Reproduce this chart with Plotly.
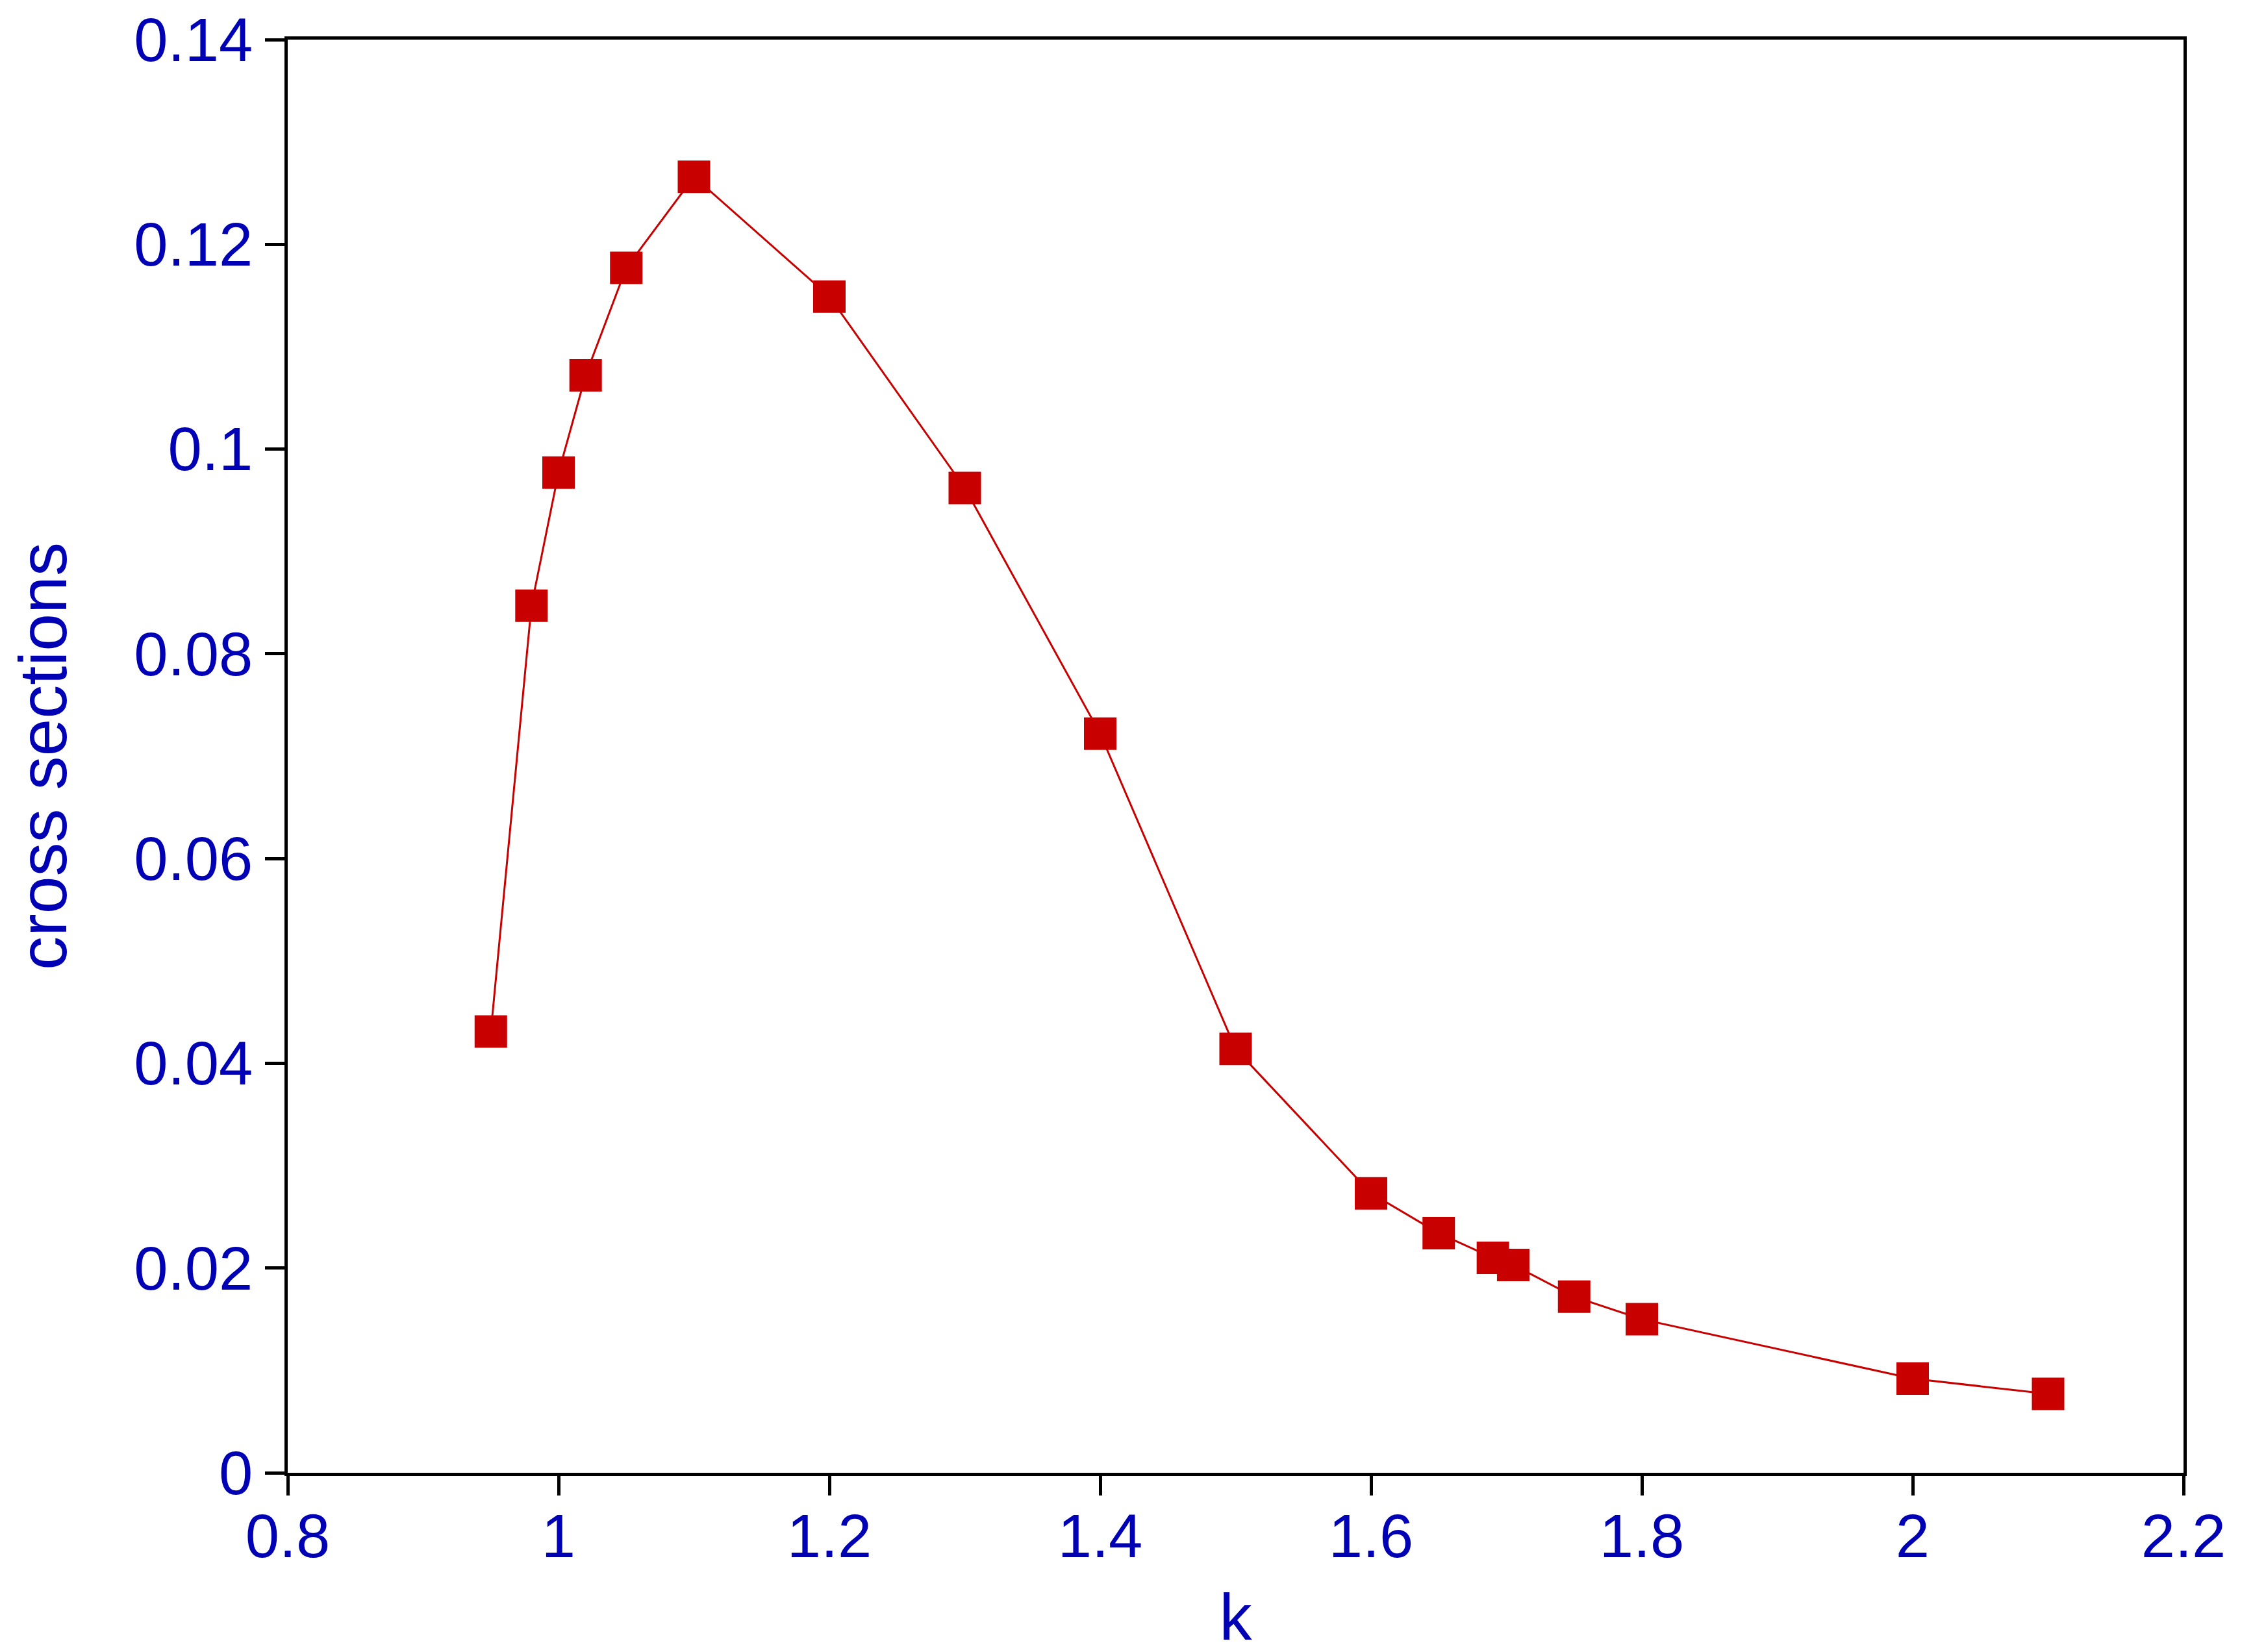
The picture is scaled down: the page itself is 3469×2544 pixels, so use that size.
import plotly.graph_objects as go

k = [0.95, 0.98, 1.0, 1.02, 1.05, 1.1, 1.2, 1.3, 1.4, 1.5,
     1.6, 1.65, 1.69, 1.705, 1.75, 1.8, 2.0, 2.1]
cross_sections = [0.0431, 0.0847, 0.0977, 0.1072, 0.1177, 0.1266, 0.1149, 0.0962, 0.0722, 0.0414,
                  0.0273, 0.0234, 0.0210, 0.0203, 0.0172, 0.0150, 0.0092, 0.0077]

BLUE = "#0000B4"
RED = "#C80000"
FONT = "Liberation Sans, Arial, sans-serif"

fig = go.Figure()
fig.add_trace(
    go.Scatter(
        x=k,
        y=cross_sections,
        mode="lines+markers",
        line=dict(color=RED, width=3),
        marker=dict(symbol="square", size=50, color=RED),
        showlegend=False,
    )
)

axis_common = dict(
    showgrid=False,
    zeroline=False,
    showline=True,
    linecolor="black",
    linewidth=5,
    mirror=True,
    ticks="outside",
    ticklen=30,
    tickwidth=5,
    tickcolor="black",
    ticklabeloverflow="allow",
    automargin=False,
    tickfont=dict(family=FONT, size=94, color=BLUE),
)

fig.update_xaxes(
    range=[0.8, 2.2],
    dtick=0.2,
    tick0=0.8,
    ticklabelstandoff=-18,
    title=dict(text="k", font=dict(family=FONT, size=100, color=BLUE), standoff=40),
    **axis_common,
)
fig.update_yaxes(
    range=[0, 0.14],
    dtick=0.02,
    tick0=0,
    title=dict(text="cross sections", font=dict(family=FONT, size=104, color=BLUE), standoff=70),
    **axis_common,
)

fig.update_layout(
    width=3469,
    height=2544,
    margin=dict(l=435, r=115, t=53, b=284),
    plot_bgcolor="white",
    paper_bgcolor="white",
)

fig.write_html("out.html")
